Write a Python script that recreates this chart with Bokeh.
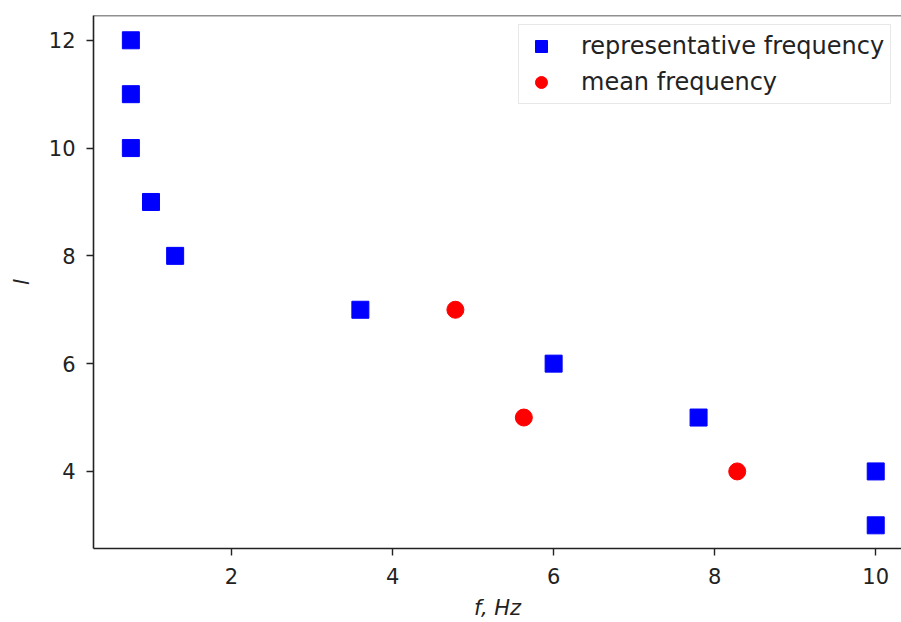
from bokeh.plotting import figure
from bokeh.models import Range1d, Span, Legend, LegendItem, FixedTicker
from bokeh.embed import file_html
from bokeh.resources import INLINE

# data
rep_f = [0.75, 0.75, 0.75, 1.0, 1.3, 3.6, 6.0, 7.8, 10.0, 10.0]
rep_l = [12, 11, 10, 9, 8, 7, 6, 5, 4, 3]
mean_f = [4.78, 5.63, 8.28]
mean_l = [7, 5, 4]
x_ticks = [2, 4, 6, 8, 10]
y_ticks = [4, 6, 8, 10, 12]

FONT = "DejaVu Sans"

p = figure(width=901, height=622, output_backend="svg", toolbar_location=None,
           x_range=Range1d(0.286, 10.32), y_range=Range1d(2.57, 12.46),
           min_border_left=93, min_border_right=0, min_border_top=15, min_border_bottom=73)
p.background_fill_color = "white"
p.border_fill_color = "white"
p.outline_line_color = None
p.grid.visible = False

r1 = p.scatter(rep_f, rep_l, marker="square", size=17, color="#0000ff", line_color="#0000ff")
r2 = p.scatter(mean_f, mean_l, marker="circle", size=17, color="#ff0000", line_color="#ff0000")

p.add_layout(Span(location=12.46, dimension="width", line_color="#222222", line_width=1.6))

for ax, ticks in ((p.xaxis, x_ticks), (p.yaxis, y_ticks)):
    ax.ticker = FixedTicker(ticks=ticks)
    ax.minor_tick_line_color = None
    ax.major_tick_out = 7
    ax.major_tick_in = 0
    ax.axis_line_color = "#222222"
    ax.axis_line_width = 1.6
    ax.major_tick_line_color = "#222222"
    ax.major_tick_line_width = 1.4
    ax.major_label_text_font = FONT
    ax.major_label_text_font_size = "21px"
    ax.major_label_text_color = "#222222"
    ax.axis_label_text_font = FONT
    ax.axis_label_text_font_size = "21px"
    ax.axis_label_text_font_style = "italic"
    ax.axis_label_text_color = "#222222"

p.xaxis.axis_label = "f, Hz"
p.yaxis.axis_label = "l"
p.xaxis.major_label_standoff = 12
p.xaxis.axis_label_standoff = 9
p.yaxis.major_label_standoff = 11
p.yaxis.axis_label_standoff = 12

legend = Legend(items=[LegendItem(label="representative frequency", renderers=[r1]),
                       LegendItem(label="mean frequency", renderers=[r2])],
                location=(425, 444))
legend.label_text_font = FONT
legend.label_text_font_size = "24px"
legend.label_text_color = "#222222"
legend.glyph_width = 32
legend.glyph_height = 30
legend.label_height = 30
legend.label_standoff = 24
legend.spacing = 6
legend.padding = 6
legend.margin = 0
legend.border_line_color = "#d0d0d0"
legend.border_line_width = 1
legend.background_fill_alpha = 0.9
p.add_layout(legend)

open("out.html", "w").write(file_html(p, INLINE))
